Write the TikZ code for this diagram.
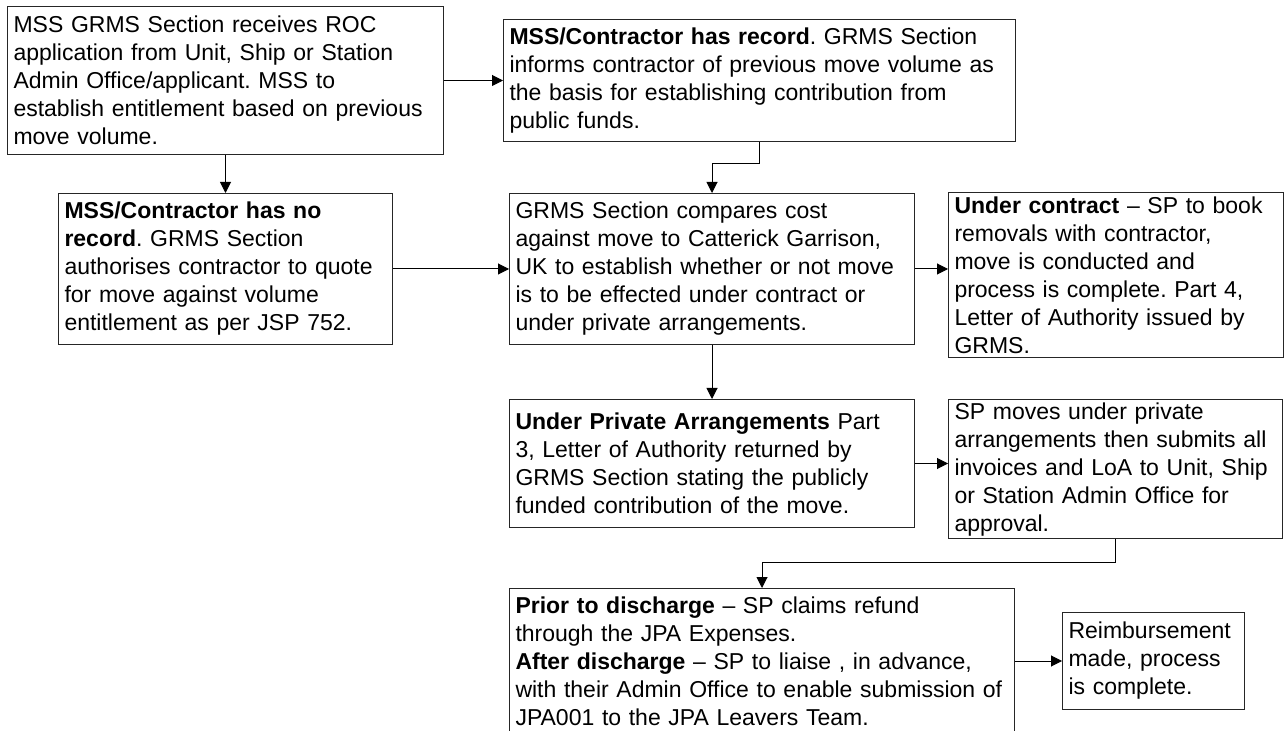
\documentclass[tikz,border=0pt]{standalone}
\usepackage{fontspec}
\setmainfont{Liberation Sans}
\usetikzlibrary{arrows.meta}
\frenchspacing

\begin{document}
\begin{tikzpicture}[x=0.5pt,y=-0.5pt,font=\fontsize{11.5}{14}\selectfont]
        \tikzstyle{stepbox}=[draw=black!85,line width=0.5pt,anchor=north west,align=left,inner xsep=3pt,inner ysep=1.5pt]
        \tikzstyle{edge}=[draw,line width=0.5pt,-{Triangle[length=5.5pt,width=5.5pt]}]
        \useasboundingbox (0,0) rectangle (1284,731);

         \node [stepbox,text width=212pt,minimum height=74pt] (apply) at (7,6) {MSS GRMS Section receives ROC\\application from Unit, Ship or Station\\Admin Office/applicant. MSS to\\establish entitlement based on previous\\move volume.};
         \node [stepbox,text width=250pt,minimum height=61pt] (record) at (503,19) {\textbf{MSS/Contractor has record}. GRMS Section\\informs contractor of previous move volume as\\the basis for establishing contribution from\\public funds.};
         \node [stepbox,text width=161pt,minimum height=75.5pt] (norecord) at (58,193) {\textbf{MSS/Contractor has no}\\\textbf{record}. GRMS Section\\authorises contractor to quote\\for move against volume\\entitlement as per JSP 752.};
         \node [stepbox,text width=196.5pt,minimum height=75.5pt] (compare) at (509,193) {GRMS Section compares cost\\against move to Catterick Garrison,\\UK to establish whether or not move\\is to be effected under contract or\\under private arrangements.};
         \node [stepbox,text width=161.5pt,minimum height=82.5pt] (contract) at (948,192) {\textbf{Under contract} – SP to book\\removals with contractor,\\move is conducted and\\process is complete. Part 4,\\Letter of Authority issued by\\GRMS.};
         \node [stepbox,text width=196.5pt,minimum height=64pt] (private) at (509,399) {\textbf{Under Private Arrangements} Part\\3, Letter of Authority returned by\\GRMS Section stating the publicly\\funded contribution of the move.};
         \node [stepbox,text width=161pt,minimum height=69.5pt] (invoices) at (948,399) {SP moves under private\\arrangements then submits all\\invoices and LoA to Unit, Ship\\or Station Admin Office for\\approval.};
         \node [stepbox,text width=246.5pt,minimum height=72.5pt] (refund) at (509,588) {\textbf{Prior to discharge} – SP claims refund\\through the JPA Expenses.\\\textbf{After discharge} – SP to liaise , in advance,\\with their Admin Office to enable submission of\\JPA001 to the JPA Leavers Team.};
         \node [stepbox,text width=85pt,minimum height=48.5pt] (paid) at (1062,612) {Reimbursement\\made, process\\is complete.};

         \path[edge] (apply) edge (record);
         \path[edge] (apply) edge (norecord);
         \draw[edge] (record.south) -- ++(0,22) -| (compare.north);
         \path[edge] (norecord) edge (compare);
         \draw[edge] (compare.east) -- (compare.east -| contract.west);
         \path[edge] (compare) edge (private);
         \draw[edge] (private.east) -- (private.east -| invoices.west);
         \draw[edge] (invoices.south) -- ++(0,23) -| (refund.north);
         \draw[edge] (refund.east |- paid.west) -- (paid.west);
      \end{tikzpicture}
\end{document}
